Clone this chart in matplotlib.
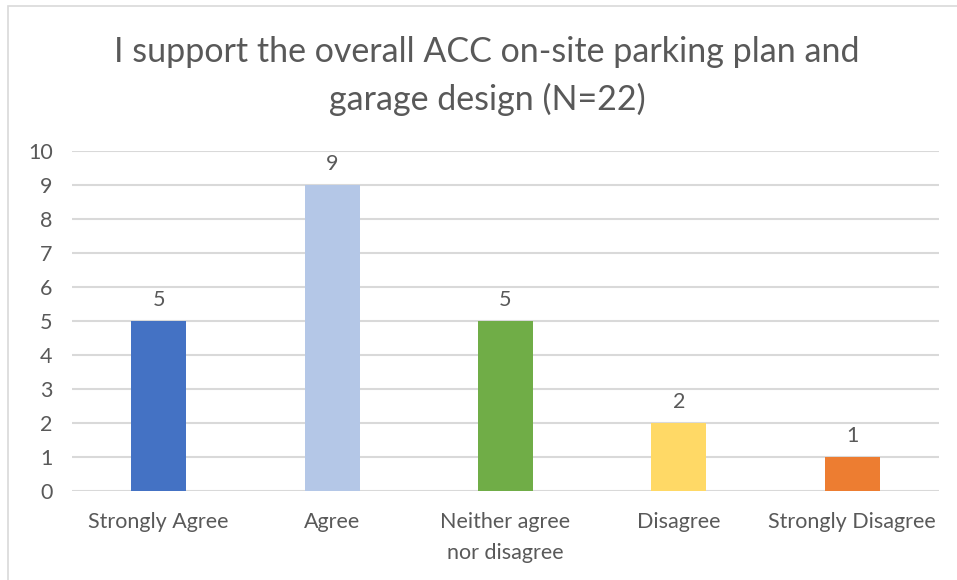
import matplotlib
matplotlib.use("Agg")
import matplotlib.pyplot as plt
from matplotlib.patches import Rectangle

categories = ["Strongly Agree", "Agree", "Neither agree\nnor disagree", "Disagree", "Strongly Disagree"]
counts = [5, 9, 5, 2, 1]
colors = ["#4472C4", "#B4C7E7", "#70AD47", "#FFD966", "#ED7D31"]
yticks = list(range(0, 11))
title = "I support the overall ACC on-site parking plan and\ngarage design (N=22)"

plt.rcParams['font.family'] = ['Lato', 'DejaVu Sans']
txt = "#595959"

fig = plt.figure(figsize=(9.57, 5.8), dpi=100)
W, H = 957, 580

# chart border (cropped on the right/bottom)
fig.patches.append(Rectangle((8 / W, -0.1), 1.2, 1 - 6 / H + 0.1, transform=fig.transFigure,
                             fill=False, edgecolor="#D9D9D9", linewidth=1.2))

ax = fig.add_axes([72 / W, 1 - 491 / H, (939 - 72) / W, (491 - 151) / H])
x = range(len(categories))
bars = ax.bar(x, counts, width=0.317, color=colors, zorder=3)
for b, v in zip(bars, counts):
    ax.annotate(str(v), (b.get_x() + b.get_width() / 2, v), xytext=(0, 8),
                textcoords="offset points", ha="center", va="bottom", fontsize=15.5, color=txt)

ax.set_xlim(-0.5, len(categories) - 0.5)
ax.set_ylim(0, 10)
ax.set_yticks(yticks)
ax.set_xticks(list(x))
ax.set_xticklabels(categories, fontsize=15.5, color=txt, linespacing=1.7)
ax.tick_params(axis="y", labelsize=15.5, labelcolor=txt, length=0, pad=14)
ax.tick_params(axis="x", length=0, pad=15)
ax.grid(axis="y", color="#D9D9D9", linewidth=1.5, zorder=0)
for s in ax.spines.values():
    s.set_visible(False)

fig.text(487 / W, 1 - 76 / H, title, ha="center", va="center", fontsize=24.5,
         color=txt, linespacing=1.55)

fig.savefig("out.png", dpi=100)
